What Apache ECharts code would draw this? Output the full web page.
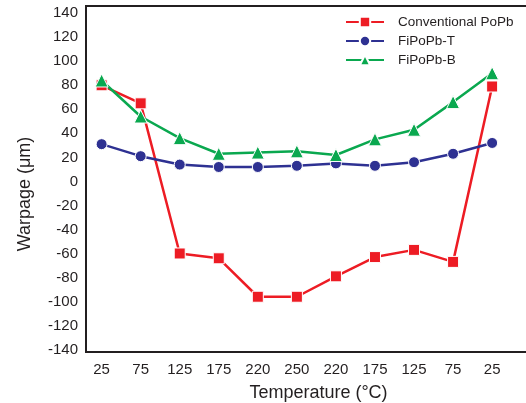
<!DOCTYPE html>
<html>
<head>
<meta charset="utf-8">
<script src="https://cdn.jsdelivr.net/npm/echarts@6/dist/echarts.min.js"></script>
<style>
html, body { margin: 0; padding: 0; background: #fff; }
#chart { width: 526px; height: 403px; }
</style>
</head>
<body>
<div id="chart"></div>
<script>
// temperature steps of the reflow profile (heat up, then cool down)
const temps = ['25', '75', '125', '175', '220', '250', '220', '175', '125', '75', '25'];
// warpage in µm
const conventional = [80, 65, -60, -64, -96, -96, -79, -63, -57, -67, 79];
const fipopbT = [31, 21, 14, 12, 12, 13, 15, 13, 16, 23, 32];
const fipopbB = [84, 54, 36, 23, 24, 25, 22, 35, 43, 66, 90];
const yTicks = [-140, -120, -100, -80, -60, -40, -20, 0, 20, 40, 60, 80, 100, 120, 140];

const xIdx = temps.map((t, i) => i);
const pairs = arr => arr.map((v, i) => [i, v]);

const font = 'Arial, "Liberation Sans", sans-serif';

const mkSeries = (name, data, color, symbol, size) => ({
  name: name,
  type: 'line',
  data: pairs(data),
  symbol: symbol,
  symbolSize: size,
  lineStyle: { color: color, width: 2.5 },
  itemStyle: { color: color, borderColor: '#fff', borderWidth: 1 },
  emphasis: { disabled: true }
});

const chart = echarts.init(document.getElementById('chart'));
chart.setOption({
  animation: false,
  backgroundColor: '#fff',
  grid: {
    left: 86, right: -13, top: 6, bottom: 51,
    outerBoundsMode: 'none',
    containLabel: false,
    show: true, borderColor: '#231f20', borderWidth: 2
  },
  legend: {
    orient: 'vertical',
    left: 345, top: 15,
    padding: 0,
    itemWidth: 38, itemHeight: 13, itemGap: 5,
    textStyle: { fontFamily: font, fontSize: 13.5, color: '#231f20', padding: [0, 0, 0, 9] },
    data: ['Conventional PoPb', 'FiPoPb-T', 'FiPoPb-B']
  },
  xAxis: {
    type: 'value',
    min: -0.4, max: 11.2,
    name: 'Temperature (°C)',
    nameLocation: 'middle',
    nameGap: 32,
    nameTextStyle: { fontFamily: font, fontSize: 18, color: '#231f20', padding: [0, 0, 0, 12] },
    axisLine: { show: false },
    axisTick: { show: false },
    splitLine: { show: false },
    axisLabel: {
      customValues: xIdx,
      formatter: v => temps[v],
      margin: 10,
      fontFamily: font, fontSize: 15, color: '#231f20'
    }
  },
  yAxis: {
    type: 'value',
    min: -142, max: 146,
    name: 'Warpage (μm)',
    nameLocation: 'middle',
    nameGap: 52,
    nameRotate: 90,
    nameTextStyle: { fontFamily: font, fontSize: 18, color: '#231f20', padding: [0, 30, 0, 0] },
    axisLine: { show: false },
    axisTick: { show: false },
    splitLine: { show: false },
    axisLabel: {
      customValues: yTicks,
      margin: 8,
      fontFamily: font, fontSize: 15, color: '#231f20'
    }
  },
  series: [
    mkSeries('Conventional PoPb', conventional, '#ed1c24', 'rect', 11),
    mkSeries('FiPoPb-T', fipopbT, '#2e3192', 'circle', 11),
    mkSeries('FiPoPb-B', fipopbB, '#0aa84f', 'triangle', 13)
  ]
});
window.addEventListener('resize', () => chart.resize());
</script>
</body>
</html>
